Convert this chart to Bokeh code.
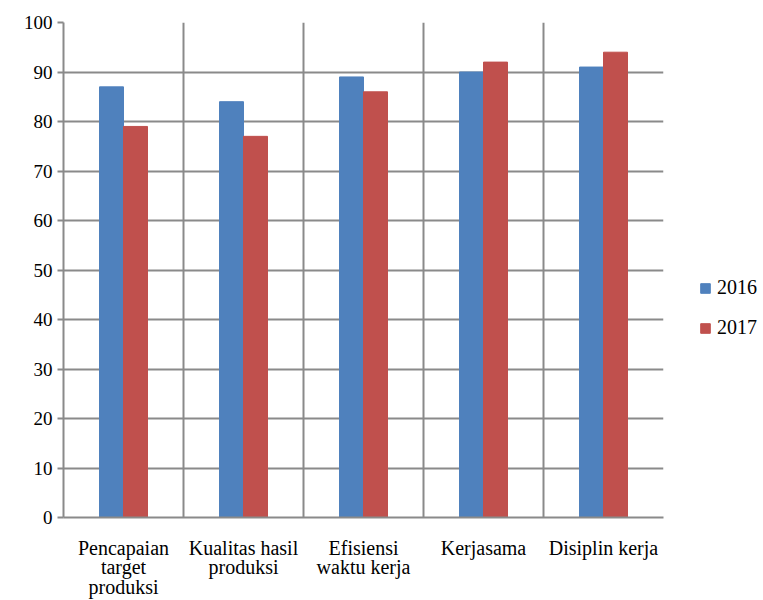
from bokeh.plotting import figure
from bokeh.models import FixedTicker, Legend, LegendItem, ColumnDataSource, Range1d
from bokeh.embed import file_html
from bokeh.resources import INLINE

categories = ["Pencapaian\ntarget\nproduksi", "Kualitas hasil\nproduksi", "Efisiensi\nwaktu kerja", "Kerjasama", "Disiplin kerja"]
series_names = ["2016", "2017"]
values_2016 = [87, 84, 89, 90, 91]
values_2017 = [79, 77, 86, 92, 94]
y_ticks = [0, 10, 20, 30, 40, 50, 60, 70, 80, 90, 100]

BLUE = "#4F81BD"
RED = "#C0504D"
GRID = "#8a8a8a"
FONT = "Liberation Serif"

n = len(categories)
centers = [i + 0.5 for i in range(n)]
bar_w = 0.2

p = figure(frame_width=600, frame_height=495, output_backend="svg", toolbar_location=None,
           x_range=Range1d(0, n), y_range=Range1d(0, 100))
p.min_border_left = 63
p.min_border_top = 22
p.min_border_bottom = 83
p.outline_line_color = None
p.background_fill_color = "white"
p.border_fill_color = "white"

src1 = ColumnDataSource(dict(x=[c - bar_w / 2 for c in centers], top=values_2016))
src2 = ColumnDataSource(dict(x=[c + bar_w / 2 for c in centers], top=values_2017))
r1 = p.vbar(x="x", top="top", width=bar_w, bottom=0, source=src1, fill_color=BLUE, line_color=BLUE, line_width=1)
r2 = p.vbar(x="x", top="top", width=bar_w, bottom=0, source=src2, fill_color=RED, line_color=RED, line_width=1)

# grids
p.ygrid.ticker = FixedTicker(ticks=y_ticks)
p.ygrid.grid_line_color = GRID
p.ygrid.grid_line_width = 2
p.xgrid.ticker = FixedTicker(ticks=list(range(n + 1)))
p.xgrid.grid_line_color = GRID
p.xgrid.grid_line_width = 2

# y axis
ya = p.yaxis[0]
ya.ticker = FixedTicker(ticks=y_ticks)
ya.axis_line_color = GRID
ya.axis_line_width = 2
ya.major_tick_line_color = GRID
ya.major_tick_line_width = 2
ya.major_tick_out = 6
ya.major_tick_in = 0
ya.minor_tick_line_color = None
ya.major_label_text_font = FONT
ya.major_label_text_font_size = "19px"
ya.major_label_text_color = "black"
ya.major_label_standoff = 5

# x axis
xa = p.xaxis[0]
xa.ticker = FixedTicker(ticks=centers)
xa.major_label_overrides = {c: lab for c, lab in zip(centers, categories)}
xa.axis_line_color = GRID
xa.axis_line_width = 2
xa.major_tick_line_color = None
xa.minor_tick_line_color = None
xa.major_label_text_font = FONT
xa.major_label_text_font_size = "20px"
xa.major_label_text_line_height = 0.9
xa.major_label_text_color = "black"
xa.major_label_standoff = 13

legend = Legend(items=[LegendItem(label=series_names[0], renderers=[r1]),
                       LegendItem(label=series_names[1], renderers=[r2])],
                location=(36, 178), orientation="vertical")
legend.label_text_font = FONT
legend.label_text_font_size = "20px"
legend.label_text_color = "black"
legend.glyph_width = 12
legend.glyph_height = 12
legend.spacing = 17
legend.label_standoff = 6
legend.label_width = 50
legend.border_line_color = None
legend.background_fill_alpha = 0
legend.padding = 4
legend.margin = 0
p.add_layout(legend, "right")
p.min_border_right = 100

open("out.html", "w").write(file_html(p, INLINE))
